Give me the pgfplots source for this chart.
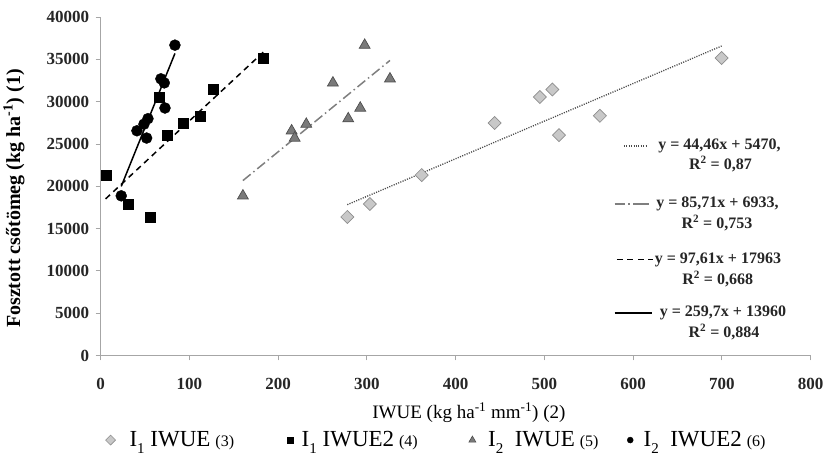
\documentclass[border=0pt]{standalone}
\usepackage{fontspec}
\setmainfont{Liberation Serif}
\usepackage{pgfplots}
\pgfplotsset{compat=1.18}
\definecolor{diafill}{HTML}{C8C8C8}
\definecolor{diadraw}{HTML}{8E8E8E}
\definecolor{trifill}{HTML}{7A7A7A}
\definecolor{tridraw}{HTML}{4E4E4E}
\definecolor{axgray}{HTML}{A6A6A6}
\definecolor{ddgray}{HTML}{7F7F7F}
\definecolor{dotgray}{HTML}{4A4A4A}
\newcommand{\legtxt}[3]{{\fontsize{23}{23}\selectfont I\raisebox{-0.28em}{\fontsize{15}{15}\selectfont #1}\ #2}\hspace{5pt}{\fontsize{16}{16}\selectfont (#3)}}
\begin{document}
\begin{tikzpicture}[x=1pt,y=1pt]
\useasboundingbox (0,0) rectangle (827,458);
\begin{axis}[
  at={(113.4,121.2)}, anchor=south west,
  scale only axis, width=710pt, height=338.4pt,
  xmin=0, xmax=800, ymin=0, ymax=40000,
  xtick={0,100,...,800}, ytick={0,5000,...,40000},
  axis lines=left, axis line style={axgray, -, line width=0.8pt},
  tick style={axgray, line width=0.8pt}, tick align=outside, major tick length=5pt,
  scaled ticks=false, /pgf/number format/1000 sep={},
  /pgf/number format/assume math mode=true,
  ticklabel style={font=\bfseries\fontsize{17}{17}\selectfont, text=black!85},
  xticklabel style={yshift=-14pt},
  yticklabel style={xshift=-3pt},
  xlabel={IWUE (kg ha\textsuperscript{-1} mm\textsuperscript{-1}) (2)},
  xlabel style={font=\fontsize{19}{19}\selectfont, at={(axis description cs:0.5187,-0.169)}, anchor=center},
  ylabel={Fosztott csőtömeg (kg ha\textsuperscript{-1}) (1)},
  ylabel style={font=\bfseries\fontsize{20}{20}\selectfont, at={(axis description cs:-0.122,0.4637)}, anchor=center},
  clip=false,
  legend columns=4,
  legend image code/.code={\draw[#1] plot coordinates {(0pt,0pt)};},
  legend style={at={(axis description cs:0.00704,-0.25)}, anchor=west, draw=none,
    inner sep=0pt, outer sep=0pt, nodes={inner sep=0pt}, fill=none,
    /tikz/every even column/.style={column sep=0pt}, /tikz/every odd column/.style={column sep=0pt}},
]
% trendlines
\addplot[forget plot, dotgray, line width=1.3pt, dash pattern=on 1.1pt off 1.3pt] coordinates {(277.9,17825) (699.7,36579)};
\addplot[forget plot, ddgray, line width=1.5pt, dash pattern=on 10pt off 3.5pt on 1.5pt off 3.5pt] coordinates {(160.3,20672) (326,34874)};
\addplot[forget plot, black, line width=1.5pt, dash pattern=on 6pt off 4.5pt] coordinates {(5.6,18510) (183.2,35845)};
\addplot[forget plot, black, line width=1.5pt] coordinates {(23.2,19985) (83.7,35697)};
% data
\addplot[forget plot, only marks, mark=square*, mark size=4.6pt, mark options={rotate=45, fill=diafill, draw=diadraw, line width=0.7pt}] coordinates {
(277.9,16370) (303.4,17910) (361.7,21320) (444,27480) (495,30550) (509,31440) (516.4,26050) (562.6,28330) (699.7,35160)};
\addplot[forget plot, only marks, mark=square*, mark size=5pt, mark options={fill=black, draw=black}] coordinates {
(6,21320) (31,17910) (55.3,16370) (66,30550) (75.5,26050) (93,27480) (112,28330) (127,31440) (183.2,35160)};
\addplot[forget plot, only marks, mark=triangle*, mark size=6.3pt, mark options={fill=trifill, draw=tridraw, line width=0.7pt}] coordinates {
(160.3,18870) (215.2,26560) (218.6,25700) (231.7,27340) (261.7,32220) (279,27990) (292.5,29250) (297.5,36680) (326,32700)};
\addplot[forget plot, only marks, mark=*, mark size=5.5pt, mark options={fill=black, draw=black}] coordinates {
(23.2,18870) (40.9,26560) (51.8,25700) (48.8,27340) (71.7,32220) (53.3,27990) (72.5,29250) (83.7,36680) (67.9,32700)};
% bottom legend
\addlegendimage{only marks, mark=square*, mark size=3.5pt, mark options={rotate=45, fill=diafill, draw=diadraw, line width=0.6pt}}
\addlegendentry{\makebox[172pt][l]{\hspace{14pt}\legtxt{1}{IWUE}{3}}}
\addlegendimage{only marks, mark=square*, mark size=2.9pt, mark options={fill=black}}
\addlegendentry{\makebox[175.6pt][l]{\hspace{8.4pt}\legtxt{1}{IWUE2}{4}}}
\addlegendimage{only marks, mark=triangle*, mark size=4pt, mark options={fill=trifill, draw=tridraw, line width=0.6pt}}
\addlegendentry{\makebox[151.4pt][l]{\hspace{12.3pt}\legtxt{2}{\ IWUE}{5}}}
\addlegendimage{only marks, mark=*, mark size=3pt, mark options={fill=black}}
\addlegendentry{\hspace{10.4pt}\legtxt{2}{\ IWUE2}{6}}
% trendline legend
\begin{scope}[every node/.style={font=\bfseries\fontsize{16}{16}\selectfont, text=black!85, inner sep=0pt}]
\draw[dotgray, line width=1.3pt, dash pattern=on 1.1pt off 1.3pt] (rel axis cs:0.737,0.619) -- (rel axis cs:0.770,0.619);
\node at (rel axis cs:0.8715,0.619) {y = 44,46x + 5470,};
\node at (rel axis cs:0.873,0.5665) {R\textsuperscript{2} = 0,87};
\draw[ddgray, line width=1.5pt, dash pattern=on 10pt off 3.5pt on 1.5pt off 3.5pt on 6pt off 0pt] (rel axis cs:0.724,0.448) -- (rel axis cs:0.777,0.448);
\node at (rel axis cs:0.8687,0.448) {y = 85,71x + 6933,};
\node at (rel axis cs:0.868,0.392) {R\textsuperscript{2} = 0,753};
\draw[black, line width=1.5pt, dash pattern=on 6pt off 4.5pt] (rel axis cs:0.727,0.283) -- (rel axis cs:0.778,0.283);
\node at (rel axis cs:0.8694,0.283) {y = 97,61x + 17963};
\node at (rel axis cs:0.869,0.226) {R\textsuperscript{2} = 0,668};
\draw[black, line width=1.5pt] (rel axis cs:0.724,0.126) -- (rel axis cs:0.777,0.126);
\node at (rel axis cs:0.8765,0.126) {y = 259,7x + 13960};
\node at (rel axis cs:0.878,0.069) {R\textsuperscript{2} = 0,884};
\end{scope}
\end{axis}
\end{tikzpicture}
\end{document}
